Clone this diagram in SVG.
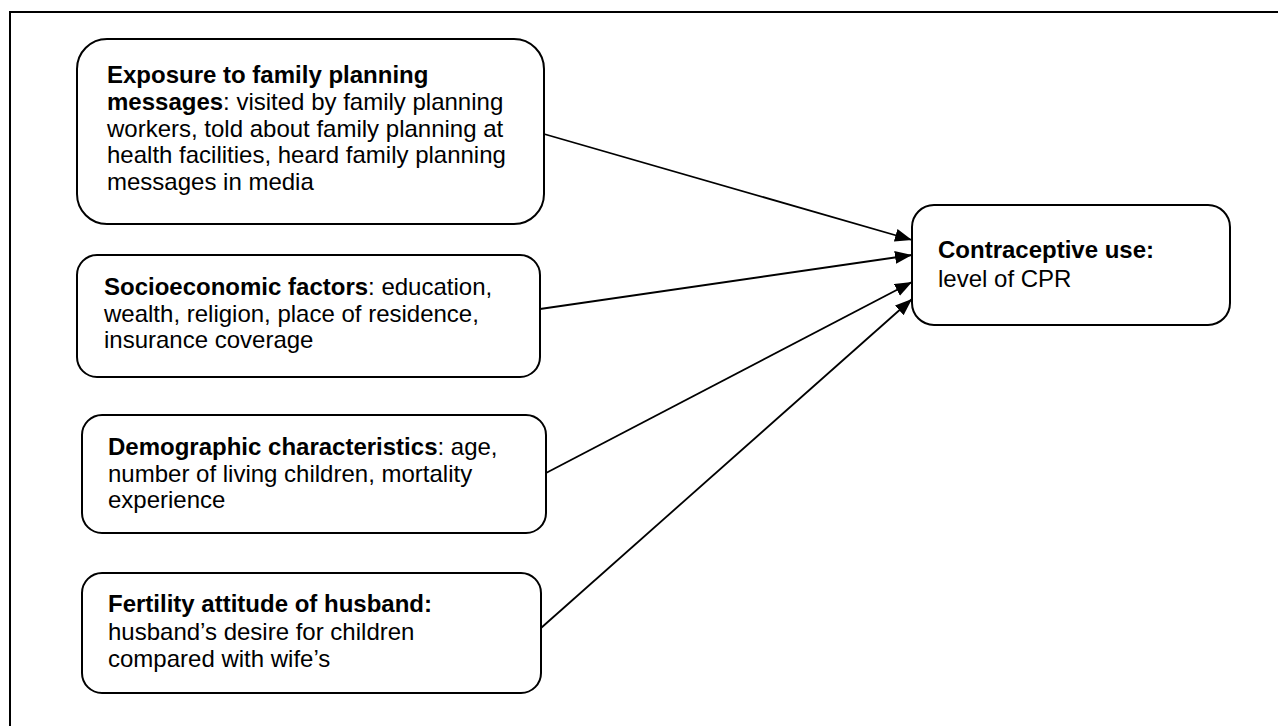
<svg xmlns="http://www.w3.org/2000/svg" width="1278" height="726" viewBox="0 0 1278 726">
<style>
.box{fill:#fff;stroke:#000;stroke-width:2}
.t{font-family:"Liberation Sans",Arial,sans-serif;font-size:24px;fill:#000}
.b{font-weight:bold}
.c{stroke:#000;stroke-width:1.8;fill:none}
</style>
<defs>
<marker id="ah" markerUnits="userSpaceOnUse" markerWidth="18" markerHeight="14" refX="17" refY="6.5" orient="auto">
<path d="M0,0 L17,6.5 L0,13 z" fill="#000"/>
</marker>
</defs>
<rect width="1278" height="726" fill="#fff"/>
<rect x="10" y="12" width="1300" height="800" fill="none" stroke="#000" stroke-width="2"/>
<g id="connectors">
<line class="c" x1="544" y1="134" x2="912" y2="240" marker-end="url(#ah)"/>
<line class="c" x1="540" y1="309" x2="912" y2="255" marker-end="url(#ah)"/>
<line class="c" x1="546" y1="473" x2="912" y2="282" marker-end="url(#ah)"/>
<line class="c" x1="541" y1="628" x2="912" y2="299" marker-end="url(#ah)"/>
</g>
<g id="exposure">
<rect class="box" x="77" y="39" width="467" height="185" rx="30"/>
<text class="t" x="107" y="83"><tspan class="b">Exposure to family planning</tspan></text>
<text class="t" x="107" y="110"><tspan class="b">messages</tspan>: visited by family planning</text>
<text class="t" x="107" y="137">workers, told about family planning at</text>
<text class="t" x="107" y="163">health facilities, heard family planning</text>
<text class="t" x="107" y="190">messages in media</text>
</g>
<g id="socioeconomic">
<rect class="box" x="77" y="255" width="463" height="122" rx="20"/>
<text class="t" x="104" y="295"><tspan class="b">Socioeconomic factors</tspan>: education,</text>
<text class="t" x="104" y="322">wealth, religion, place of residence,</text>
<text class="t" x="104" y="348">insurance coverage</text>
</g>
<g id="demographic">
<rect class="box" x="82" y="415" width="464" height="118" rx="20"/>
<text class="t" x="108" y="455"><tspan class="b">Demographic characteristics</tspan>: age,</text>
<text class="t" x="108" y="482">number of living children, mortality</text>
<text class="t" x="108" y="508">experience</text>
</g>
<g id="fertility">
<rect class="box" x="82" y="573" width="459" height="120" rx="20"/>
<text class="t" x="108" y="612"><tspan class="b">Fertility attitude of husband:</tspan></text>
<text class="t" x="108" y="640">husband’s desire for children</text>
<text class="t" x="108" y="667">compared with wife’s</text>
</g>
<g id="contraceptive">
<rect class="box" x="912" y="205" width="318" height="120" rx="22"/>
<text class="t" x="938" y="258"><tspan class="b">Contraceptive use:</tspan></text>
<text class="t" x="938" y="287">level of CPR</text>
</g>
</svg>
